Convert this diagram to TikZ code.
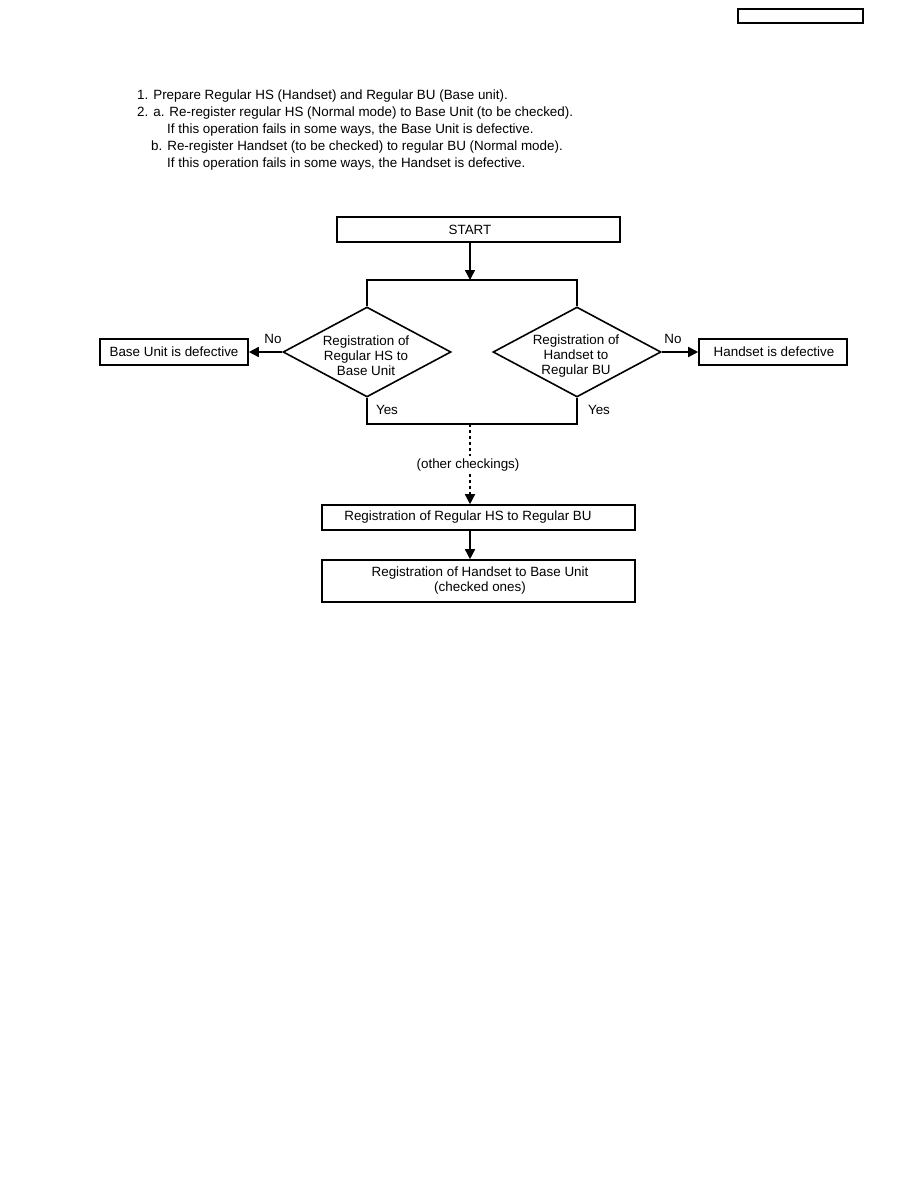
\documentclass[tikz,border=0pt]{standalone}
\usepackage{fontspec}
\setmainfont{Liberation Sans}
\usetikzlibrary{arrows.meta,shapes.geometric,calc}
\tikzset{
  box/.style={draw, line width=1.6pt, inner sep=0pt},
  txt/.style={inner sep=0pt, font=\fontsize{13.4}{15}\selectfont, align=center},
  ln/.style={line width=1.6pt},
  arr/.style={line width=1.6pt, -{Triangle[length=10pt,width=10pt]}},
  dotarr/.style={line width=1.6pt, dash pattern=on 3pt off 3pt},
  dia/.style={diamond, draw, line width=1.6pt, inner sep=0pt, minimum width=168pt, minimum height=90pt}
}
\begin{document}
\begin{tikzpicture}[x=1pt,y=-1pt]
\useasboundingbox (0,0) rectangle (918,1188);
% top-right empty box
\node[box, minimum width=125pt, minimum height=14pt] (hdr) at (800.5,16) {};
% instructions
\node[txt, anchor=west] (l1) at (137,96) {1. Prepare Regular HS (Handset) and Regular BU (Base unit).};
\node[txt, anchor=west] (l2) at (137,113) {2. a. Re-register regular HS (Normal mode) to Base Unit (to be checked).};
\node[txt, anchor=west] (l3) at (167,130) {If this operation fails in some ways, the Base Unit is defective.};
\node[txt, anchor=west] (l4) at (151,147) {b. Re-register Handset (to be checked) to regular BU (Normal mode).};
\node[txt, anchor=west] (l5) at (167,164) {If this operation fails in some ways, the Handset is defective.};
% START
\node[box, minimum width=283pt, minimum height=25pt] (start) at (478.5,229.5) {};
\node[txt] (startt) at (470,229.5) {START};
\coordinate (split) at (470,280);
\coordinate (tl) at (367,280);
\coordinate (tr) at (577,280);
\coordinate (bl) at (367,424);
\coordinate (br) at (577,424);
\coordinate (join) at (470,424);
% diamonds
\node[dia] (d1) at (367,352) {};
\node[txt] (d1t) at (366,356) {Registration of\\Regular HS to\\Base Unit};
\node[dia] (d2) at (577,352) {};
\node[txt] (d2t) at (576,356) {Registration of\\Handset to\\Regular BU};
% side boxes
\node[box, minimum width=148pt, minimum height=26pt] (bud) at (174,352) {};
\node[txt] (budt) at (174,352) {Base Unit is defective};
\node[box, minimum width=148pt, minimum height=26pt] (hsd) at (773,352) {};
\node[txt] (hsdt) at (774,352) {Handset is defective};
% bottom boxes
\node[box, minimum width=313pt, minimum height=25pt] (b3) at (478.5,517.5) {};
\node[txt] (b3t) at (468,517.5) {Registration of Regular HS to Regular BU};
\node[box, minimum width=313pt, minimum height=42pt] (b4) at (478.5,581) {};
\node[txt] (b4t) at (480,581) {Registration of Handset to Base Unit\\(checked ones)};
% connectors
\draw[arr] (start.south -| split) -- (split);
\draw[ln] (d1.north) -- (tl) -- (tr) -- (d2.north);
\draw[ln] (d1.south) -- (bl) -- (br) -- (d2.south);
\draw[arr] (d1.west) -- (bud.east);
\draw[arr] (d2.east) -- (hsd.west);
\node[txt] (no1) at (273,339) {No};
\node[txt] (no2) at (673,339) {No};
\node[txt] (yes1) at (387,410) {Yes};
\node[txt] (yes2) at (599,410) {Yes};
\node[txt] (oth) at (468,465) {(other checkings)};
\coordinate (dend) at ($(b3.north -| join)+(0,-9)$);
\draw[dotarr] (join) -- ($(oth.north -| join)+(0,-3)$);
\draw[dotarr] ($(oth.south -| join)+(0,3)$) -- (dend);
\draw[arr] ($(dend)+(0,-1)$) -- (b3.north -| join);
\draw[arr] (b3.south -| join) -- (b4.north -| join);
\end{tikzpicture}
\end{document}
